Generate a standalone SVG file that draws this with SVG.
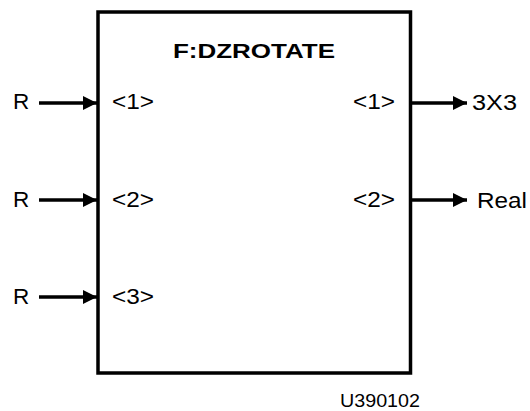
<svg xmlns="http://www.w3.org/2000/svg" width="530" height="411" viewBox="0 0 530 411">
<defs>
<marker id="ah" markerWidth="14" markerHeight="14" refX="14" refY="7" orient="auto" markerUnits="userSpaceOnUse"><path d="M0,0 L14,7 L0,14 Z" fill="#000"/></marker>
<style>
text{font-family:"Liberation Sans",Arial,sans-serif;fill:#000}
.lbl{font-size:22.5px}
.c line{stroke:#000;stroke-width:3.6;marker-end:url(#ah)}
</style>
</defs>
<rect width="530" height="411" fill="#fff"/>
<g id="block">
<rect x="98" y="12" width="312.5" height="361" fill="none" stroke="#000" stroke-width="3.5"/>
<text x="173" y="58" font-size="21" font-weight="bold" textLength="162" lengthAdjust="spacingAndGlyphs">F:DZROTATE</text>
<text class="lbl" x="112" y="109" textLength="42" lengthAdjust="spacingAndGlyphs">&lt;1&gt;</text>
<text class="lbl" x="112" y="207" textLength="42" lengthAdjust="spacingAndGlyphs">&lt;2&gt;</text>
<text class="lbl" x="112" y="304" textLength="42" lengthAdjust="spacingAndGlyphs">&lt;3&gt;</text>
<text class="lbl" x="353" y="109" textLength="42" lengthAdjust="spacingAndGlyphs">&lt;1&gt;</text>
<text class="lbl" x="353" y="207" textLength="42" lengthAdjust="spacingAndGlyphs">&lt;2&gt;</text>
</g>
<g id="in1"><text class="lbl" x="13" y="109">R</text></g>
<g id="in2"><text class="lbl" x="13" y="207">R</text></g>
<g id="in3"><text class="lbl" x="13" y="304">R</text></g>
<g id="out1"><text class="lbl" x="472" y="110" textLength="45" lengthAdjust="spacingAndGlyphs">3X3</text></g>
<g id="out2"><text class="lbl" x="477" y="208" textLength="50" lengthAdjust="spacingAndGlyphs">Real</text></g>
<g id="label"><text x="340" y="407" font-size="18" textLength="80" lengthAdjust="spacingAndGlyphs">U390102</text></g>
<g class="c" id="connectors">
<line x1="39" y1="103" x2="97" y2="103"/>
<line x1="39" y1="200" x2="97" y2="200"/>
<line x1="39" y1="297" x2="97" y2="297"/>
<line x1="412" y1="103" x2="467" y2="103"/>
<line x1="412" y1="200" x2="467" y2="200"/>
</g>
</svg>
